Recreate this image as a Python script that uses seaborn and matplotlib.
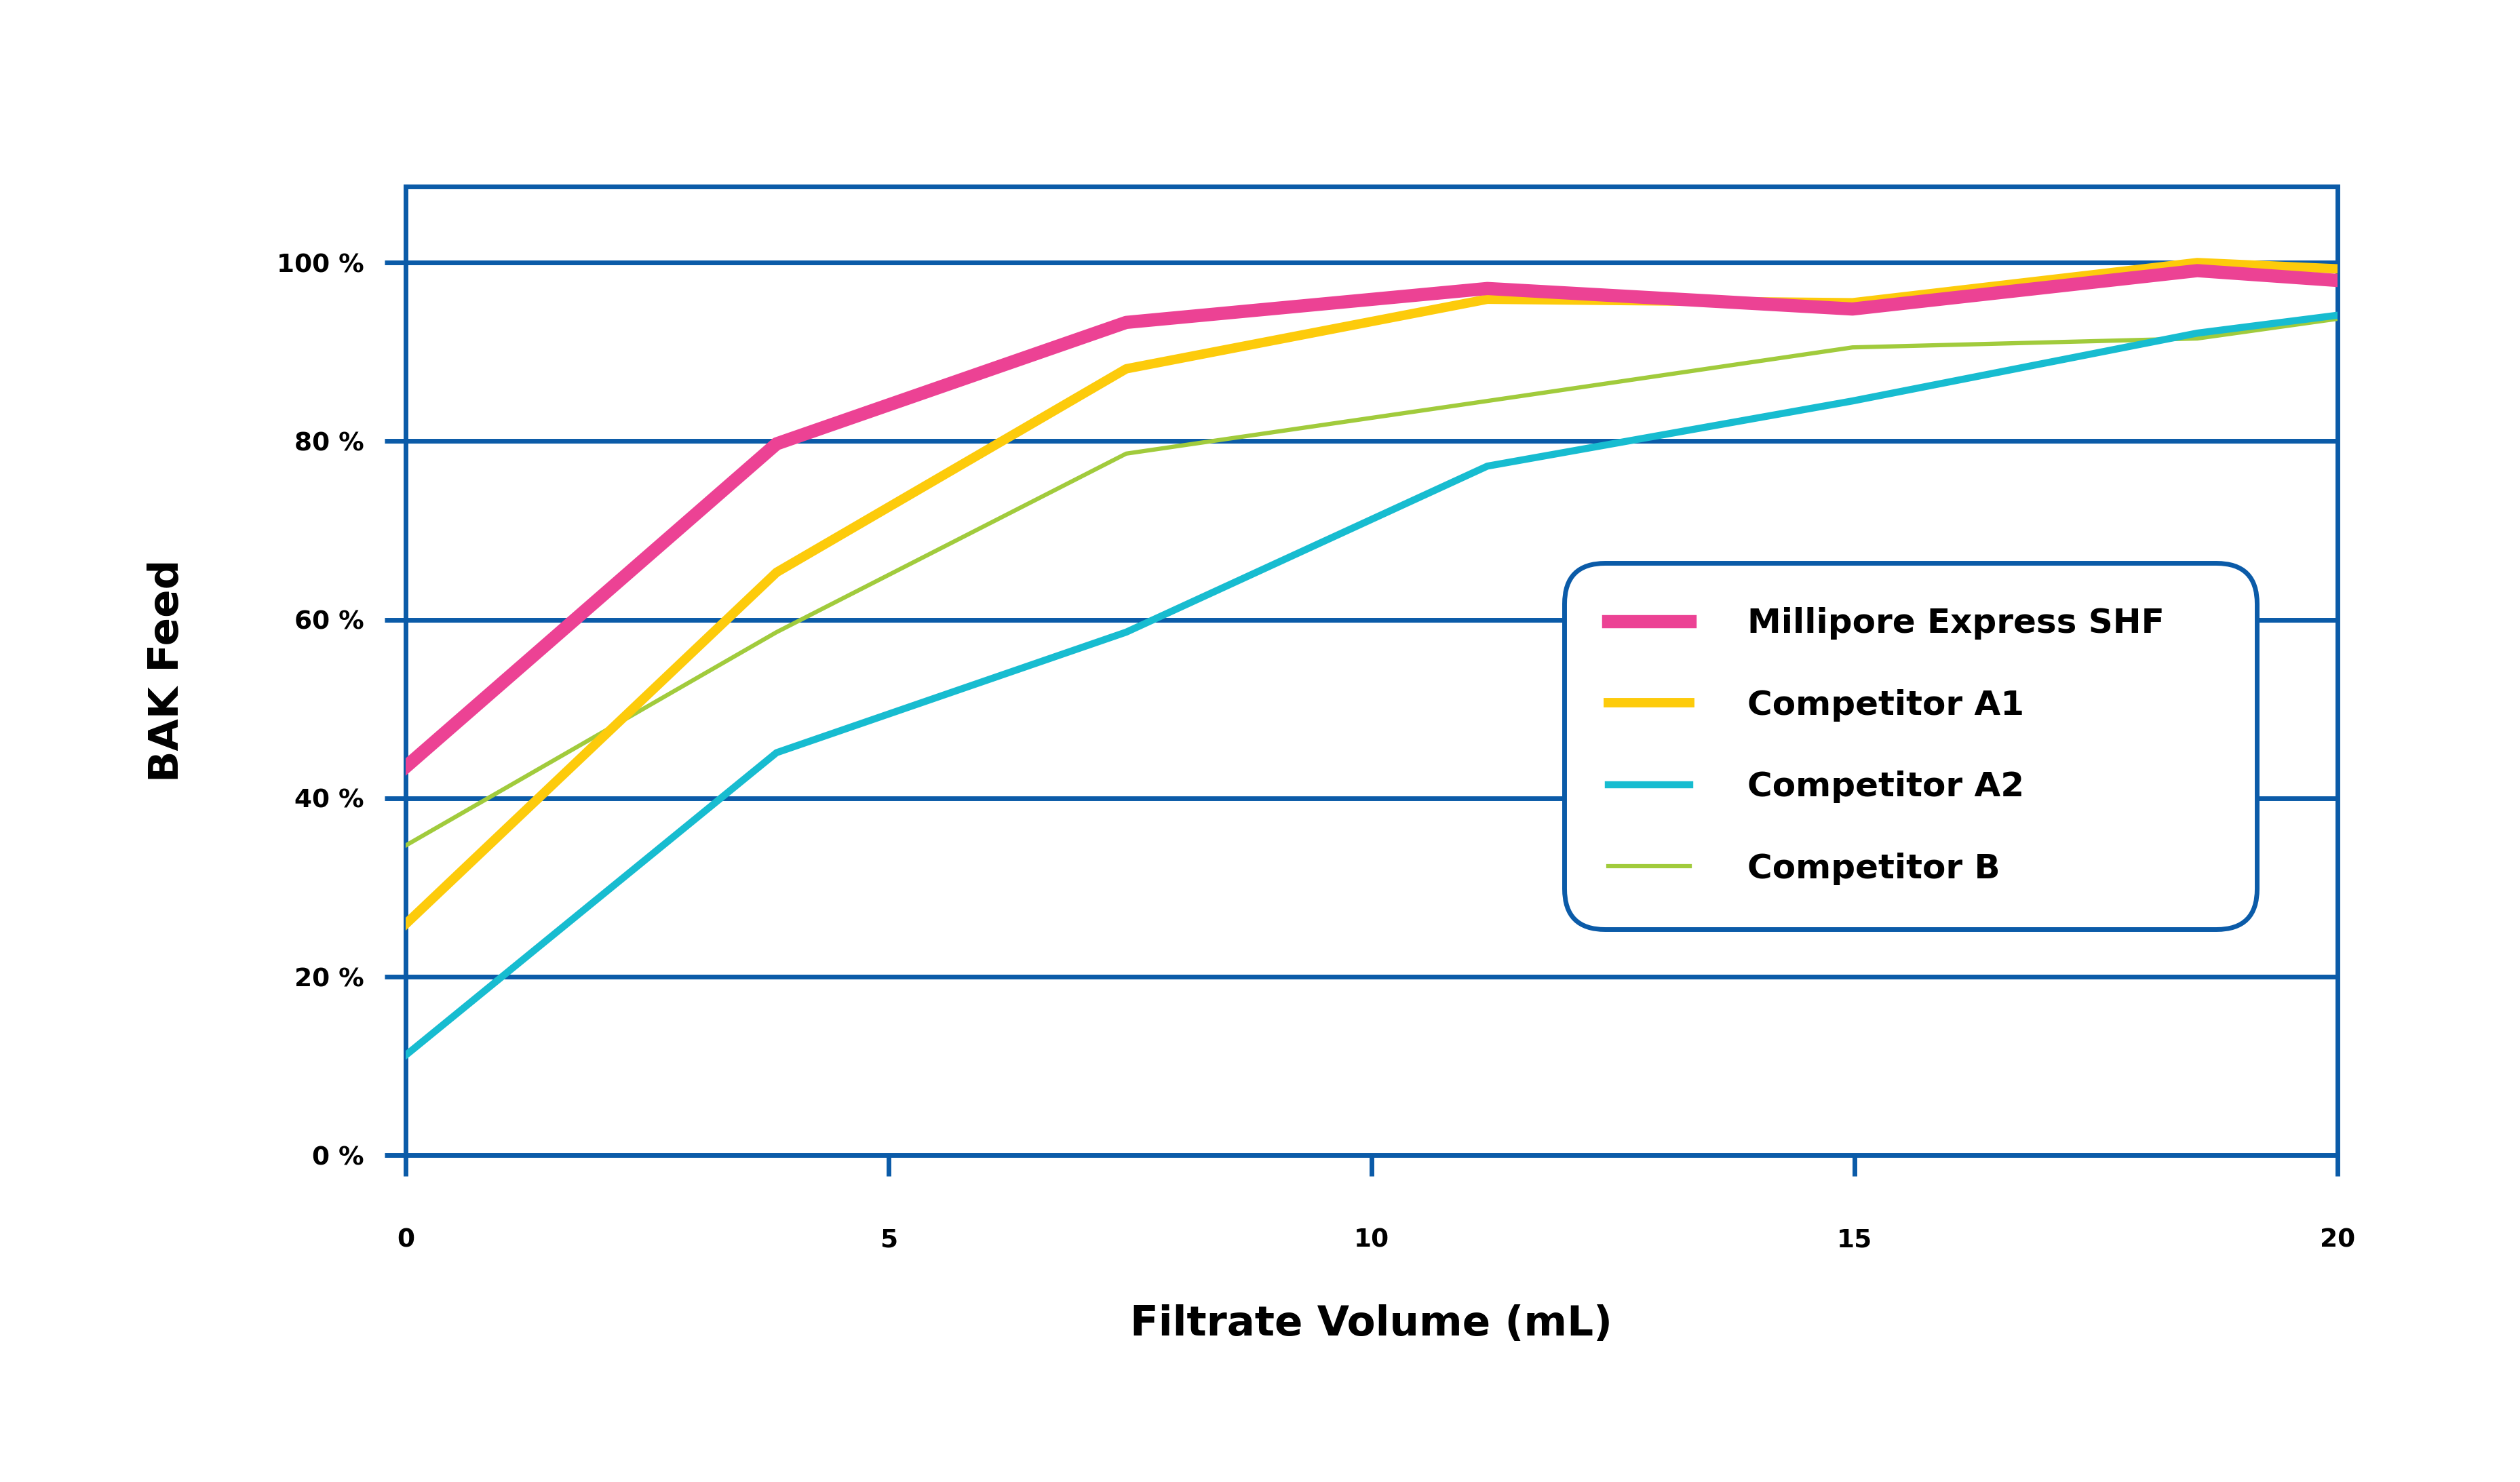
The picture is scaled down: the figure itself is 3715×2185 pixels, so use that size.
import matplotlib
matplotlib.use("Agg")
import matplotlib.pyplot as plt
import seaborn as sns
import pandas as pd

volume = [0, 3.84, 7.46, 11.2, 14.98, 18.55, 20]
shf = [43.5, 79.7, 93.3, 97.1, 94.8, 99.1, 98.0]
a1 = [25.9, 65.3, 88.1, 95.9, 95.5, 100.0, 99.3]
a2 = [11.2, 45.1, 58.6, 77.2, 84.5, 92.1, 94.1]
b = [34.7, 58.6, 78.6, 84.5, 90.5, 91.5, 93.7]
series_names = ["Millipore Express SHF", "Competitor A1", "Competitor A2", "Competitor B"]
x_ticks = [0, 5, 10, 15, 20]
y_ticks = [0, 20, 40, 60, 80, 100]
y_labels = ["0 %", "20 %", "40 %", "60 %", "80 %", "100 %"]

colors = ["#ec4294", "#fdcb0b", "#17bcd0", "#a1cb3c"]
widths = [14, 10, 7.5, 4.5]
blue = "#0b5ba8"

df = pd.DataFrame({"x": volume * 4,
                   "y": shf + a1 + a2 + b,
                   "s": sum([[n] * len(volume) for n in series_names], [])})

fig = plt.figure(figsize=(37.15, 21.85), dpi=100)
ax = fig.add_axes([0.161, 0.2205, 0.7665, 0.6535])
for i, n in enumerate(series_names):
    sns.lineplot(data=df[df.s == n], x="x", y="y", color=colors[i], lw=widths[i],
                 label=n, ax=ax, zorder=3 + (3 - i))

ax.set_xlim(0, 20)
ax.set_ylim(0, 108.5)
ax.set_xticks(x_ticks)
ax.set_yticks(y_ticks)
ax.set_yticklabels(y_labels)
for yv in y_ticks[1:]:
    ax.axhline(yv, color=blue, lw=5, zorder=1)
for sp in ax.spines.values():
    sp.set_color(blue)
    sp.set_linewidth(5)
ax.tick_params(axis="both", colors=blue, width=5, length=22, labelcolor="black", labelsize=27)
ax.tick_params(axis="x", pad=55)
ax.tick_params(axis="y", pad=22)
for t in ax.get_xticklabels() + ax.get_yticklabels():
    t.set_fontweight("bold")
ax.set_xlabel("Filtrate Volume (mL)", fontsize=44, fontweight="bold", labelpad=55)
ax.set_ylabel("BAK Feed", fontsize=44, fontweight="bold", labelpad=95)

leg = ax.legend(loc="lower left", bbox_to_anchor=(0.591, 0.216, 0.376, 0.389), mode="expand",
                frameon=True, fancybox=True, fontsize=36, handlelength=2.4, labelspacing=1.45,
                borderpad=1.3, handletextpad=1.7)
for t in leg.get_texts():
    t.set_fontweight("bold")
fr = leg.get_frame()
fr.set_edgecolor(blue)
fr.set_linewidth(5)
fr.set_boxstyle("round,pad=0,rounding_size=1.2")
fr.set_alpha(1)
fig.savefig("out.png", dpi=100)
